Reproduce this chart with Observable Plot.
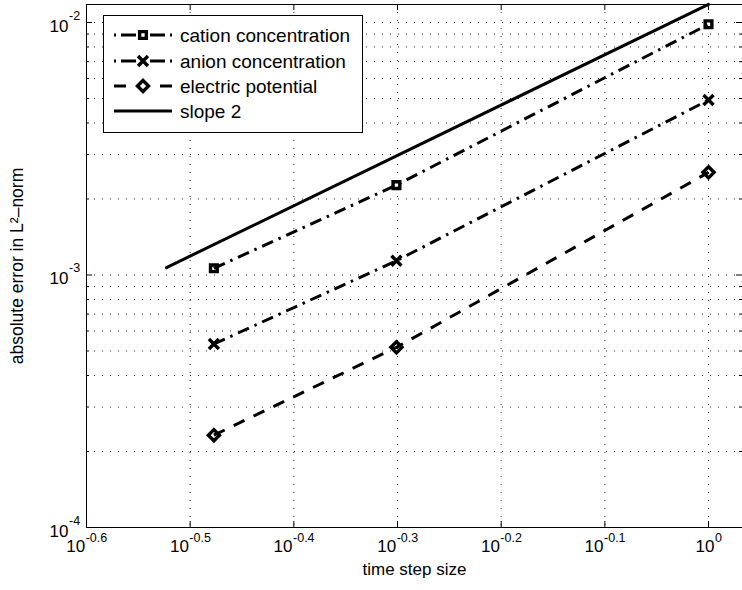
<!DOCTYPE html>
<html><head><meta charset="utf-8">
<script src="https://cdn.jsdelivr.net/npm/d3@7"></script>
<script src="https://cdn.jsdelivr.net/npm/@observablehq/plot@0.6"></script>
<style>
body{margin:0;background:#fff;font-family:"Liberation Sans",Arial,sans-serif}
#chart{position:relative;width:742px;height:590px;overflow:hidden}
</style>
</head><body><div id="chart"></div>
<script>
// ---- data ----
const stepSizes = [1/3, 1/2, 1];
const cationError = [1.063e-3, 2.27e-3, 9.84e-3];
const anionError = [5.33e-4, 1.139e-3, 4.93e-3];
const potentialError = [2.32e-4, 5.17e-4, 2.55e-3];
const slopeX = [0.3, 1];
const slopeY = [1.07e-3, 1.18e-2];
const seriesNames = ["cation concentration", "anion concentration", "electric potential", "slope 2"];
const xTickExponents = ["-0.6", "-0.5", "-0.4", "-0.3", "-0.2", "-0.1", "0"];
const yTickExponents = ["-4", "-3", "-2"];
const minorMultiples = [2, 3, 4, 5, 6, 7, 8, 9];
const xLabel = "time step size";
const yLabel = "absolute error in L²–norm";

// ---- derived tables ----
const rows = arr => stepSizes.map((s, i) => ({x: s, y: arr[i]}));
const cation = rows(cationError);
const anion = rows(anionError);
const potential = rows(potentialError);
const slope = slopeX.map((s, i) => ({x: s, y: slopeY[i]}));
const xTicks = xTickExponents.map(e => Math.pow(10, +e));
const yMajor = yTickExponents.map(e => Math.pow(10, +e));
const yMinor = yMajor.slice(0, 2).flatMap(d => minorMultiples.map(m => m * d));
const yGrid = [...yMinor, ...yMajor.slice(1)];

const W = 742, H = 590, mL = 86, mR = 0, mT = 4, mB = 63;
const innerW = W - mL - mR, innerH = H - mT - mB;
const black = "#000";
const dashDot = "12,6,2.5,6";
const dashed = "12,10";

// width estimate for superscript exponents (Arial/Liberation metrics)
const charW = c => c === "-" ? 0.333 : c === "." ? 0.278 : 0.556;
const baseSize = 17, supSize = 12.5;
const baseW = 1.112 * baseSize;

const xLabelMarks = xTickExponents.flatMap((e, i) => {
  const expW = [...e].reduce((s, c) => s + charW(c), 0) * supSize;
  const off = (baseW - expW) / 2;
  return [
    Plot.text([xTicks[i]], {x: d => d, frameAnchor: "bottom", text: () => "10", textAnchor: "end", dx: off, dy: 24.5, fontSize: baseSize, fill: black}),
    Plot.text([xTicks[i]], {x: d => d, frameAnchor: "bottom", text: () => e, textAnchor: "start", dx: off + 0.5, dy: 14.5, fontSize: supSize, fill: black})
  ];
});
const yLabelMarks = [
  Plot.text(yMajor, {y: d => d, frameAnchor: "left", text: () => "10", textAnchor: "end", dx: -18, dy: 4, fontSize: baseSize, fill: black}),
  Plot.text(yMajor, {y: d => d, frameAnchor: "left", text: (d, i) => yTickExponents[i], textAnchor: "start", dx: -17.5, dy: -7, fontSize: supSize, fill: black})
];

const svg = Plot.plot({
  width: W, height: H,
  marginLeft: mL, marginRight: mR, marginTop: mT, marginBottom: mB,
  style: {fontFamily: '"Liberation Sans", Arial, sans-serif', background: "#fff", overflow: "visible"},
  x: {type: "log", domain: [Math.pow(10, -0.6), Math.pow(10, -0.6 + innerW / 1036.7)], axis: null},
  y: {type: "log", domain: [1e-4, Math.pow(10, -4 + innerH / 252.5)], axis: null},
  marks: [
    // dotted grid
    Plot.ruleY(yGrid, {y: d => d, stroke: black, strokeWidth: 1, strokeDasharray: "1,7", strokeOpacity: 0.85}),
    Plot.ruleX(xTicks.slice(1), {x: d => d, stroke: black, strokeWidth: 1, strokeDasharray: "1,7", strokeOpacity: 0.85}),
    // inward ticks
    Plot.tickY(yMajor, {y: d => d, stroke: black, insetRight: innerW - 6}),
    Plot.tickY(yMajor, {y: d => d, stroke: black, insetLeft: innerW - 6}),
    Plot.tickY(yMinor, {y: d => d, stroke: black, insetRight: innerW - 3}),
    Plot.tickY(yMinor, {y: d => d, stroke: black, insetLeft: innerW - 3}),
    Plot.tickX(xTicks, {x: d => d, stroke: black, insetTop: innerH - 6}),
    Plot.tickX(xTicks, {x: d => d, stroke: black, insetBottom: innerH - 6}),
    Plot.frame({stroke: black, strokeWidth: 1}),
    // series
    Plot.line(slope, {x: "x", y: "y", stroke: black, strokeWidth: 3}),
    Plot.line(cation, {x: "x", y: "y", stroke: black, strokeWidth: 3, strokeDasharray: dashDot, strokeLinecap: "butt"}),
    Plot.line(anion, {x: "x", y: "y", stroke: black, strokeWidth: 3, strokeDasharray: dashDot, strokeLinecap: "butt"}),
    Plot.line(potential, {x: "x", y: "y", stroke: black, strokeWidth: 3, strokeDasharray: dashed, strokeLinecap: "butt"}),
    Plot.dot(cation, {x: "x", y: "y", symbol: "square", r: 3.8, stroke: black, strokeWidth: 3.4, fill: "none"}),
    Plot.dot(anion, {x: "x", y: "y", symbol: "times", r: 4.6, stroke: black, strokeWidth: 3.4, fill: "none"}),
    Plot.dot(potential, {x: "x", y: "y", symbol: "diamond2", r: 5, stroke: black, strokeWidth: 3.4, fill: "none"}),
    // axis labels
    ...xLabelMarks,
    ...yLabelMarks,
    Plot.text([xLabel], {frameAnchor: "bottom", text: d => d, textAnchor: "middle", dy: 47, fontSize: 17, fill: black}),
    Plot.text([yLabel], {frameAnchor: "left", text: d => d, textAnchor: "middle", dx: -69, rotate: -90, fontSize: 17.5, fill: black})
  ]
});

// ---- legend (inside the axes, top-left) ----
const g = d3.select(svg).append("g").attr("class", "legend");
g.append("rect").attr("x", 103.5).attr("y", 15.5).attr("width", 259).attr("height", 117)
  .attr("fill", "#fff").attr("stroke", black).attr("stroke-width", 1);
const legendRows = [
  {name: seriesNames[0], dash: "2,5,15,14,15,5,2", symbol: d3.symbolSquare, r: 3.8, sw: 3.4},
  {name: seriesNames[1], dash: "2,5,15,14,15,5,2", symbol: d3.symbolTimes, r: 4.6, sw: 3.4},
  {name: seriesNames[2], dash: "12,34,12", symbol: d3.symbolDiamond2, r: 5, sw: 3.4},
  {name: seriesNames[3], dash: null, symbol: null}
];
const rowY = [35, 61, 86, 111];
legendRows.forEach((row, i) => {
  const y = rowY[i];
  const ln = g.append("line").attr("x1", 114).attr("x2", 172).attr("y1", y).attr("y2", y)
    .attr("stroke", black).attr("stroke-width", 3);
  if (row.dash) ln.attr("stroke-dasharray", row.dash);
  if (row.symbol) {
    g.append("path").attr("d", d3.symbol(row.symbol, Math.PI * row.r * row.r)())
      .attr("transform", `translate(143,${y})`).attr("fill", "none")
      .attr("stroke", black).attr("stroke-width", row.sw);
  }
  g.append("text").attr("x", 180).attr("y", y).attr("dy", "0.35em")
    .attr("text-anchor", "start").attr("font-size", 19).attr("fill", black).text(row.name);
});

document.getElementById("chart").appendChild(svg);
</script>
</body></html>
